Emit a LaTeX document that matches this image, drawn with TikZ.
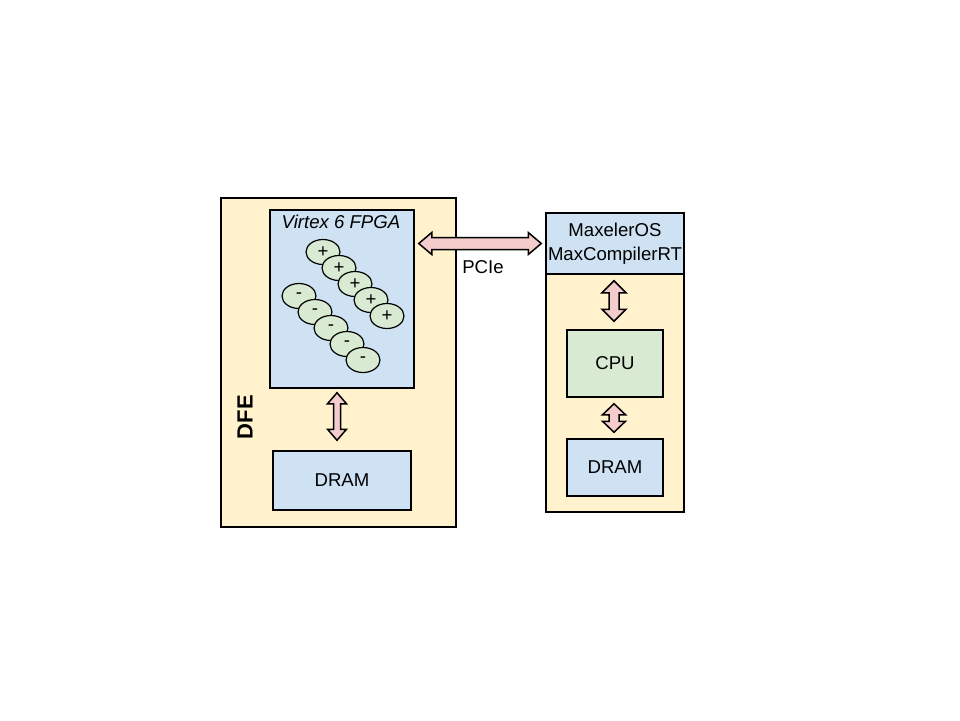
\documentclass[tikz,border=0pt]{standalone}
\usepackage{fontspec}
\setmainfont{Liberation Sans}
\usepackage{xcolor}
\usepackage{tikz}
\usetikzlibrary{calc}
\usetikzlibrary{positioning}
\usetikzlibrary{shapes.geometric}
\definecolor{boardyellow}{HTML}{FFF2CC}
\definecolor{chipblue}{HTML}{CFE2F3}
\definecolor{cpugreen}{HTML}{D9EAD3}
\definecolor{linkpink}{HTML}{F4CCCC}
\tikzstyle{boardnode}=[draw=black, line width=1.5pt, shape=rectangle, fill=boardyellow, inner sep=0pt]
\tikzstyle{chipnode}=[draw=black, line width=1.5pt, shape=rectangle, fill=chipblue, inner sep=0pt, align=center]
\tikzstyle{cpunode}=[draw=black, line width=1.5pt, shape=rectangle, fill=cpugreen, inner sep=0pt]
\tikzstyle{opnode}=[draw=black, line width=1.2pt, shape=ellipse, fill=cpugreen, minimum width=34pt, minimum height=25pt, inner sep=0pt]
\tikzstyle{bigarrow}=[draw=black, line width=1.5pt, fill=linkpink, line join=miter]
% fat double arrow: from, to, half head width, half shaft width, head length
\newcommand*{\fatarrow}[5]{%
  \coordinate (hA) at ($(#1)!#5!(#2)$);
  \coordinate (hB) at ($(#2)!#5!(#1)$);
  \draw[bigarrow] (#1) -- ($(hA)!#3!90:(#2)$) -- ($(hA)!#4!90:(#2)$) -- ($(hB)!#4!-90:(#1)$) -- ($(hB)!#3!-90:(#1)$) -- (#2)
    -- ($(hB)!#3!90:(#1)$) -- ($(hB)!#4!90:(#1)$) -- ($(hA)!#4!-90:(#2)$) -- ($(hA)!#3!-90:(#2)$) -- cycle;}

\begin{document}
\begin{tikzpicture}[x=1pt, y=-1pt, font=\fontsize{18.6}{22}\selectfont]
\useasboundingbox (0,0) rectangle (960,720);

% DFE card
\node [boardnode, minimum width=235pt, minimum height=329pt] (dfe) at (338.5,362.5) {};
\node [chipnode, minimum width=144pt, minimum height=178pt] (fpga) at (342,299) {};
\node [anchor=north, inner sep=0pt, font=\fontsize{18.6}{22}\selectfont\itshape] (fpgalabel) at (341,215) {Virtex 6 FPGA};
\node [chipnode, minimum width=138pt, minimum height=59pt] (dramL) at (342,480.5) {DRAM};
\node [rotate=90, font=\fontsize{22}{26}\selectfont\bfseries] (dfelabel) at (245,417) {DFE};

% kernel operators
\foreach \i in {1,...,5} {
  \node [opnode] (p\i) at ({323+16*(\i-1)},{252+16*(\i-1)}) {+};
}
\foreach \i in {1,...,5} {
  \node [opnode] (m\i) at ({299+16*(\i-1)},{296+16*(\i-1)}) {-};
}

% host
\node [boardnode, minimum width=138pt, minimum height=299pt] (host) at (615,362.5) {};
\node [chipnode, minimum width=138pt, minimum height=61pt] (os) at (615,243.5) {MaxelerOS\\[2pt]MaxCompilerRT};
\node [cpunode, minimum width=96pt, minimum height=67pt] (cpu) at (615,363.5) {CPU};
\node [chipnode, minimum width=96pt, minimum height=57pt] (dramR) at (615,467.5) {DRAM};

% links
\coordinate (pcieL) at ($(fpga.east |- os.west)+(4,0)$);
\coordinate (pcieR) at ($(os.west)+(-4,0)$);
\fatarrow{pcieL}{pcieR}{11pt}{6pt}{13pt}
\node (pcie) at (483,267) {PCIe};

\coordinate (memT) at ($(fpga.south)+(-5,4)$);
\coordinate (memB) at ($(dramL.north)+(-5,-10)$);
\fatarrow{memT}{memB}{9.5pt}{3.5pt}{11pt}

\coordinate (osB) at ($(os.south)+(-1,6)$);
\coordinate (cpuT) at ($(cpu.north)+(-1,-8)$);
\fatarrow{osB}{cpuT}{12pt}{5pt}{12pt}

\coordinate (cpuB) at ($(cpu.south)+(-1,6)$);
\coordinate (dramT) at ($(dramR.north)+(-1,-6)$);
\fatarrow{cpuB}{dramT}{11.5pt}{5pt}{11pt}
\end{tikzpicture}
\end{document}
